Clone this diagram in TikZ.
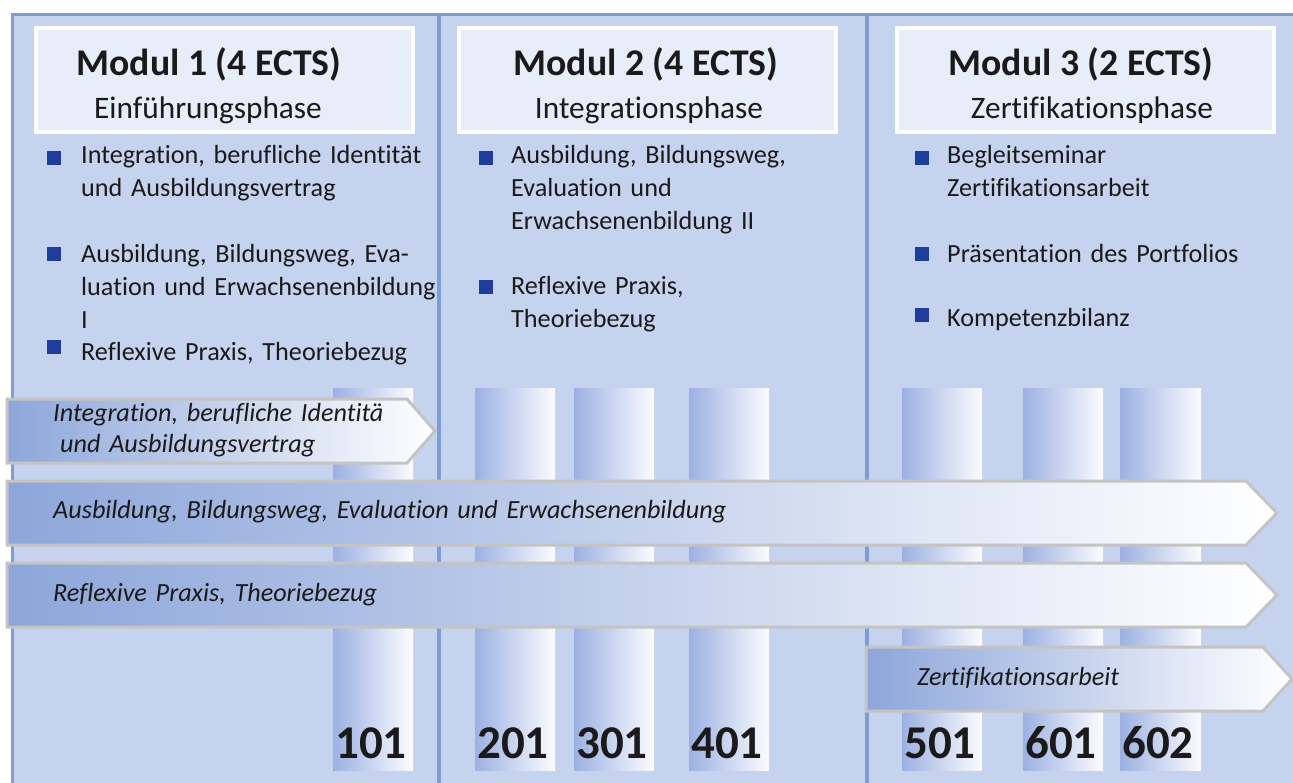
\documentclass[tikz,border=0pt]{standalone}
\usepackage{fontspec}
\setmainfont[RawFeature={-liga}]{Carlito}
\definecolor{bgblue}{HTML}{C5D3EF}
\definecolor{frameblue}{HTML}{7F9CD5}
\definecolor{headfill}{HTML}{E8EDFA}
\definecolor{bulletblue}{HTML}{1F3E9C}
\definecolor{txt}{HTML}{1A1A1A}
\definecolor{barleft}{HTML}{9CB1E2}
\definecolor{barright}{HTML}{FCFCFF}
\definecolor{arrowleft}{HTML}{8DA6DA}
\definecolor{arrowline}{HTML}{C4C4C4}
\tikzset{
  headbox/.style={fill=headfill, draw=white, line width=4pt},
  headtitle/.style={anchor=base, inner sep=0pt, text=txt, font=\fontsize{37.7}{43}\selectfont\bfseries},
  headsub/.style={anchor=base, inner sep=0pt, text=txt, font=\fontsize{31.3}{35}\selectfont},
  bullettext/.style={anchor=base west, inner sep=0pt, text=txt, text width=420pt, align=left, font=\fontsize{26.2}{33}\selectfont\frenchspacing},
  bulletsq/.style={fill=bulletblue},
  bar/.style={left color=barleft, right color=barright},
  chevron/.style={left color=arrowleft, right color=white, draw=arrowline, line width=3pt},
  chevtext/.style={anchor=base west, inner sep=0pt, text=txt, text width=800pt, align=left, font=\fontsize{26.2}{31}\selectfont\itshape\frenchspacing},
  numlabel/.style={anchor=base, inner sep=0pt, text=txt, font=\fontsize{47}{52}\selectfont\bfseries},
  sepline/.style={draw=frameblue, line width=4pt}
}
\begin{document}
\begin{tikzpicture}[x=1pt,y=-1pt]
\useasboundingbox (0,0) rectangle (1293,782);
\clip (0,0) rectangle (1293,782);
\fill[white] (0,0) rectangle (1293,782);
% main background
\filldraw[fill=bgblue, draw=frameblue, line width=3pt] (12,14) rectangle (1310,800);
\draw[sepline] (439,14) -- (439,790);
\draw[sepline] (867,14) -- (867,790);
% header boxes
\filldraw[headbox] (36,28) rectangle (413,132);
\filldraw[headbox] (459,28) rectangle (836,132);
\filldraw[headbox] (897,28) rectangle (1274,132);
\node[headtitle] (t1) at (209,75) {Modul 1 (4 ECTS)};
\node[headsub]   (s1) at (208,118) {Einführungsphase};
\node[headtitle] (t2) at (646,75) {Modul 2 (4 ECTS)};
\node[headsub]   (s2) at (649,118) {Integrationsphase};
\node[headtitle] (t3) at (1081,75) {Modul 3 (2 ECTS)};
\node[headsub]   (s3) at (1092,118) {Zertifikationsphase};
% bullets column 1
\fill[bulletsq] (47,151) rectangle (61,165);
\fill[bulletsq] (47,247) rectangle (61,261);
\fill[bulletsq] (47,340) rectangle (61,354);
\node[bullettext] (b11) at (81,163) {Integration, berufliche Identität\\und Ausbildungsvertrag};
\node[bullettext] (b12) at (81,262) {Ausbildung, Bildungsweg, Eva-\\luation und Erwachsenenbildung\\I};
\node[bullettext] (b13) at (81,360) {Reflexive Praxis, Theoriebezug};
% bullets column 2
\fill[bulletsq] (479,151) rectangle (493,165);
\fill[bulletsq] (479,280) rectangle (493,294);
\node[bullettext] (b21) at (511,163) {Ausbildung, Bildungsweg,\\Evaluation und\\Erwachsenenbildung II};
\node[bullettext] (b22) at (511,294) {Reflexive Praxis,\\Theoriebezug};
% bullets column 3
\fill[bulletsq] (915,151) rectangle (929,165);
\fill[bulletsq] (915,247) rectangle (929,261);
\fill[bulletsq] (915,308) rectangle (929,322);
\node[bullettext] (b31) at (947,163) {Begleitseminar\\Zertifikationsarbeit};
\node[bullettext] (b32) at (947,262) {Präsentation des Portfolios};
\node[bullettext] (b33) at (947,326) {Kompetenzbilanz};
% vertical bars
\shade[bar] (333,388) rectangle (413,770);
\shade[bar] (475,388) rectangle (555,770);
\shade[bar] (574,388) rectangle (654,770);
\shade[bar] (689,388) rectangle (769,770);
\shade[bar] (902,388) rectangle (982,770);
\shade[bar] (1023,388) rectangle (1103,770);
\shade[bar] (1120,388) rectangle (1201,770);
% chevrons
\shadedraw[chevron] (7,399) -- (407,399) -- (435,431) -- (407,463) -- (7,463) -- cycle;
\shadedraw[chevron] (7,481) -- (1246,481) -- (1277,513) -- (1246,545) -- (7,545) -- cycle;
\shadedraw[chevron] (7,563) -- (1246,563) -- (1277,595) -- (1246,627) -- (7,627) -- cycle;
\shadedraw[chevron] (866,647) -- (1263,647) -- (1292,679) -- (1263,711) -- (866,711) -- cycle;
\node[chevtext] (c1) at (53,421) {Integration, berufliche Identitä\\\hspace*{7pt}und Ausbildungsvertrag};
\node[chevtext] (c2) at (53,518) {Ausbildung, Bildungsweg, Evaluation und Erwachsenenbildung};
\node[chevtext] (c3) at (53,601) {Reflexive Praxis, Theoriebezug};
\node[chevtext] (c4) at (917,685) {Zertifikationsarbeit};
% numbers
\node[numlabel] (n101) at (371,758) {101};
\node[numlabel] (n201) at (513,758) {201};
\node[numlabel] (n301) at (612,758) {301};
\node[numlabel] (n401) at (727,758) {401};
\node[numlabel] (n501) at (940,758) {501};
\node[numlabel] (n601) at (1061,758) {601};
\node[numlabel] (n602) at (1158,758) {602};
\end{tikzpicture}
\end{document}
